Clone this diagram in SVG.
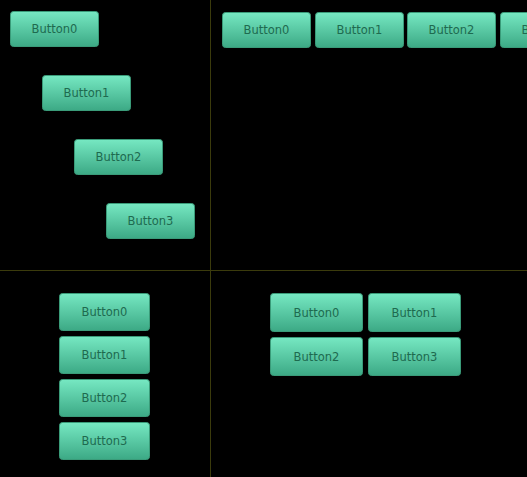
<svg xmlns="http://www.w3.org/2000/svg" width="527" height="477" viewBox="0 0 527 477">
<defs>
<linearGradient id="g" x1="0" y1="0" x2="0" y2="1">
<stop offset="0" stop-color="#76e8c2"/>
<stop offset="1" stop-color="#3ca985"/>
</linearGradient>
<style>
.b{fill:url(#g);stroke:#3a9b79;stroke-width:1}
.t{font-family:"DejaVu Sans",sans-serif;font-size:11.5px;fill:#1e6a4f;text-anchor:middle;dominant-baseline:central}
.d{stroke:#3b3b0c;stroke-width:1}
</style>
</defs>
<rect x="0" y="0" width="527" height="477" fill="#000"/>
<g id="dividers">
<line class="d" x1="210.5" y1="0" x2="210.5" y2="477"/>
<line class="d" x1="0" y1="270.5" x2="527" y2="270.5"/>
</g>
<g id="tl-b0"><rect class="b" x="10.5" y="11.5" width="88" height="35" rx="3"/><text class="t" x="54.5" y="29">Button0</text></g>
<g id="tl-b1"><rect class="b" x="42.5" y="75.5" width="88" height="35" rx="3"/><text class="t" x="86.5" y="93">Button1</text></g>
<g id="tl-b2"><rect class="b" x="74.5" y="139.5" width="88" height="35" rx="3"/><text class="t" x="118.5" y="157">Button2</text></g>
<g id="tl-b3"><rect class="b" x="106.5" y="203.5" width="88" height="35" rx="3"/><text class="t" x="150.5" y="221">Button3</text></g>
<g id="tr-b0"><rect class="b" x="222.5" y="12.5" width="88" height="35" rx="3"/><text class="t" x="266.5" y="30">Button0</text></g>
<g id="tr-b1"><rect class="b" x="315.5" y="12.5" width="88" height="35" rx="3"/><text class="t" x="359.5" y="30">Button1</text></g>
<g id="tr-b2"><rect class="b" x="407.5" y="12.5" width="88" height="35" rx="3"/><text class="t" x="451.5" y="30">Button2</text></g>
<g id="tr-b3"><rect class="b" x="500.5" y="12.5" width="88" height="35" rx="3"/><text class="t" x="544.5" y="30">Button3</text></g>
<g id="bl-b0"><rect class="b" x="59.5" y="293.5" width="90" height="37" rx="3"/><text class="t" x="104.5" y="312">Button0</text></g>
<g id="bl-b1"><rect class="b" x="59.5" y="336.5" width="90" height="37" rx="3"/><text class="t" x="104.5" y="355">Button1</text></g>
<g id="bl-b2"><rect class="b" x="59.5" y="379.5" width="90" height="37" rx="3"/><text class="t" x="104.5" y="398">Button2</text></g>
<g id="bl-b3"><rect class="b" x="59.5" y="422.5" width="90" height="37" rx="3"/><text class="t" x="104.5" y="441">Button3</text></g>
<g id="br-b0"><rect class="b" x="270.5" y="293.5" width="92" height="38" rx="3"/><text class="t" x="316.5" y="312.5">Button0</text></g>
<g id="br-b1"><rect class="b" x="368.5" y="293.5" width="92" height="38" rx="3"/><text class="t" x="414.5" y="312.5">Button1</text></g>
<g id="br-b2"><rect class="b" x="270.5" y="337.5" width="92" height="38" rx="3"/><text class="t" x="316.5" y="356.5">Button2</text></g>
<g id="br-b3"><rect class="b" x="368.5" y="337.5" width="92" height="38" rx="3"/><text class="t" x="414.5" y="356.5">Button3</text></g>
</svg>
